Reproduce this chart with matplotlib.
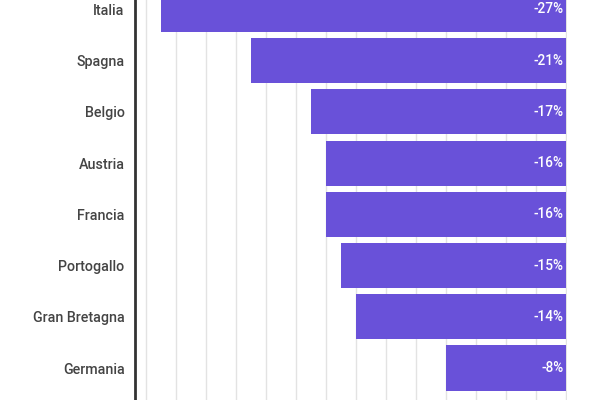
import matplotlib
matplotlib.use("Agg")
import matplotlib.pyplot as plt

plt.rcParams['font.family'] = ['Roboto', 'DejaVu Sans']

countries = ["Italia", "Spagna", "Belgio", "Austria", "Francia",
             "Portogallo", "Gran Bretagna", "Germania"]
changes = [-27, -21, -17, -16, -16, -15, -14, -8]
value_labels = ["-27%", "-21%", "-17%", "-16%", "-16%", "-15%", "-14%", "-8%"]

BAR_COLOR = "#6951d9"

fig = plt.figure(figsize=(6, 4), dpi=100)
# axes run past the figure edges: the reference is a crop of a taller chart
ax = fig.add_axes([0.225, -0.0353, 0.72, 1.0756])

ypos = list(range(len(countries)))
ax.barh(ypos, changes, height=0.88, color=BAR_COLOR, zorder=2)

for y, v, lab in zip(ypos, changes, value_labels):
    ax.text(-0.15, y, lab, ha="right", va="center", color="white",
            fontsize=9.8, fontweight="medium", zorder=3)

ax.set_xlim(-28.73, 0.07)
ax.set_ylim(7.9, -0.5)
ax.set_xticks(range(-28, 1, 2))
ax.tick_params(axis="x", length=0, labelbottom=False)
ax.grid(axis="x", color="#e3e3e3", linewidth=1, zorder=0)

ax.set_yticks(ypos)
ax.set_yticklabels(countries, fontsize=10.3, color="#444444",
                   fontweight="medium")
ax.tick_params(axis="y", length=0, pad=7.5)

for side in ["top", "right", "bottom"]:
    ax.spines[side].set_visible(False)
ax.spines["left"].set_color("#333333")
ax.spines["left"].set_linewidth(2)

fig.savefig("out.png", dpi=100)
